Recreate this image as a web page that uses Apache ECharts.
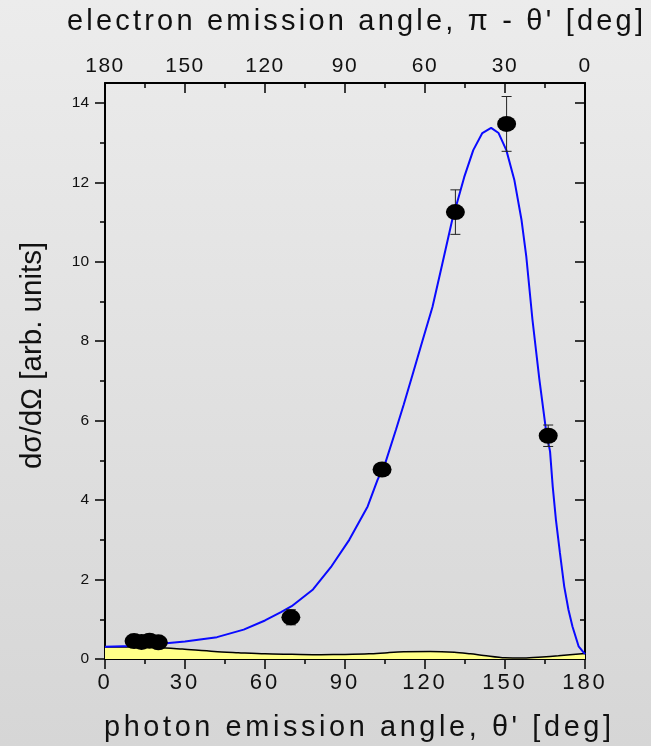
<!DOCTYPE html>
<html>
<head>
<meta charset="utf-8">
<script src="https://cdn.jsdelivr.net/npm/echarts@6/dist/echarts.min.js"></script>
<style>
html,body{margin:0;padding:0;background:#e2e2e2;}
#chart{width:651px;height:746px;}
</style>
</head>
<body>
<div id="chart"></div>
<script>
// ---------- data ----------
var photonTicks = [0, 30, 60, 90, 120, 150, 180];
var yMajorTicks = [0, 2, 4, 6, 8, 10, 12, 14];
var yMinorTicks = [1, 3, 5, 7, 9, 11, 13];

// measured points
var ptAngle = [10.9, 13.7, 16.7, 20.0, 69.7, 103.9, 131.4, 150.6, 166.2];
var ptValue = [0.45, 0.43, 0.46, 0.42, 1.05, 4.77, 11.25, 13.47, 5.62];
var ptError = [0.05, 0.05, 0.05, 0.05, 0.19, 0.15, 0.56, 0.69, 0.27];

// theory curve (blue)
var blueAngle = [0, 10, 20, 30, 42, 52, 60, 66, 70, 78, 85, 91.6, 98.5, 102.2, 105.1, 109.1, 112, 115.3, 119, 122.8, 126.5, 130.2, 134.7, 138.1, 141.5, 144.8, 147.6, 150.5, 153.5, 156.2, 158, 160.3, 162.9, 165.4, 166.9, 167.9, 169.1, 170.6, 172.2, 173.8, 175.3, 177.6, 180];
var blueValue = [0.31, 0.33, 0.38, 0.44, 0.55, 0.74, 0.97, 1.18, 1.33, 1.75, 2.34, 3.0, 3.84, 4.51, 4.93, 5.77, 6.4, 7.15, 8.0, 8.86, 9.95, 11.05, 12.13, 12.81, 13.24, 13.37, 13.24, 12.81, 12.06, 11.05, 10.12, 8.54, 7.03, 5.75, 5.22, 4.34, 3.5, 2.67, 1.83, 1.24, 0.82, 0.32, 0.12];

// background contribution (black line, yellow fill)
var blackAngle = [0, 10, 20, 29, 41, 50, 60, 70, 81, 90, 99, 106, 112, 122, 131, 137, 142, 150, 157, 164, 170, 180];
var blackValue = [0.30, 0.30, 0.29, 0.25, 0.19, 0.16, 0.13, 0.12, 0.11, 0.115, 0.13, 0.16, 0.18, 0.19, 0.17, 0.13, 0.09, 0.03, 0.025, 0.05, 0.08, 0.14];

var topTitle = "electron emission angle, \u03c0 - \u03b8' [deg]";
var bottomTitle = "photon emission angle, \u03b8' [deg]";
var leftTitle = "d\u03c3/d\u03a9 [arb. units]";

// ---------- letter spacing (keyed by font size) ----------
(function () {
  var proto = CanvasRenderingContext2D.prototype;
  if (!('letterSpacing' in proto)) return;
  var SPACING = { '22': '3px', '21': '1.5px', '29': '3.2px', '28.9': '3.6px' };
  var orig = proto.fillText;
  proto.fillText = function (t, x, y, m) {
    var mm = /(\d+(?:\.\d+)?)px/.exec(this.font || '');
    var key = mm ? String(parseFloat(mm[1])) : '';
    var prev = this.letterSpacing;
    this.letterSpacing = SPACING[key] || '0px';
    var r = m === undefined ? orig.call(this, t, x, y) : orig.call(this, t, x, y, m);
    this.letterSpacing = prev;
    return r;
  };
})();

function zip(a, b) { return a.map(function (v, i) { return [v, b[i]]; }); }

var FONT = "'Liberation Sans', Arial, sans-serif";
var axisLineStyle = { color: '#000', width: 2 };
var tickLine = { color: '#000', width: 1.5 };

var chart = echarts.init(document.getElementById('chart'), null, { renderer: 'canvas' });
chart.setOption({
  animation: false,
  backgroundColor: {
    type: 'linear', x: 0, y: 0, x2: 0, y2: 1,
    colorStops: [{ offset: 0, color: '#ececec' }, { offset: 1, color: '#d6d6d6' }]
  },
  grid: { left: 105, right: 66, top: 83, bottom: 87, containLabel: false },
  xAxis: [
    {
      type: 'value', position: 'bottom', min: 0, max: 180, interval: 30,
      axisLine: { show: true, onZero: false, lineStyle: axisLineStyle },
      axisTick: { show: true, inside: false, length: 10, lineStyle: tickLine },
      minorTick: { show: true, splitNumber: 2, length: 5, lineStyle: tickLine },
      axisLabel: { show: true, fontSize: 22, margin: 13, color: '#111', fontFamily: FONT },
      splitLine: { show: false }, minorSplitLine: { show: false }
    },
    {
      type: 'value', position: 'top', inverse: true, min: 0, max: 180, interval: 30,
      axisLine: { show: true, onZero: false, lineStyle: axisLineStyle },
      axisTick: { show: true, inside: true, length: 10, lineStyle: tickLine },
      minorTick: { show: true, splitNumber: 2, length: 5, lineStyle: tickLine },
      axisLabel: { show: true, fontSize: 21, margin: 6, color: '#111', fontFamily: FONT },
      splitLine: { show: false }, minorSplitLine: { show: false }
    }
  ],
  yAxis: [
    {
      type: 'value', position: 'left', min: 0, max: 14.5,
      axisLine: { show: true, onZero: false, lineStyle: axisLineStyle },
      axisTick: { show: true, inside: false, length: 10, lineStyle: tickLine, customValues: yMajorTicks },
      axisLabel: { show: true, fontSize: 15.5, margin: 16, color: '#111', fontFamily: FONT, customValues: yMajorTicks },
      splitLine: { show: false }
    },
    {
      type: 'value', position: 'left', min: 0, max: 14.5,
      axisLine: { show: false },
      axisTick: { show: true, inside: false, length: 5, lineStyle: tickLine, customValues: yMinorTicks },
      axisLabel: { show: false, customValues: yMinorTicks },
      splitLine: { show: false }
    },
    {
      type: 'value', position: 'right', min: 0, max: 14.5,
      axisLine: { show: true, onZero: false, lineStyle: axisLineStyle },
      axisTick: { show: true, inside: true, length: 10, lineStyle: tickLine, customValues: yMajorTicks },
      axisLabel: { show: false, customValues: yMajorTicks },
      splitLine: { show: false }
    },
    {
      type: 'value', position: 'right', min: 0, max: 14.5,
      axisLine: { show: false },
      axisTick: { show: true, inside: true, length: 5, lineStyle: tickLine, customValues: yMinorTicks },
      axisLabel: { show: false, customValues: yMinorTicks },
      splitLine: { show: false }
    }
  ],
  graphic: [
    { type: 'text', x: 67, y: 22, style: { text: topTitle, font: "29px " + FONT, fill: '#111', textAlign: 'left', textVerticalAlign: 'middle' } },
    { type: 'text', x: 104, y: 728, style: { text: bottomTitle, font: "28.9px " + FONT, fill: '#111', textAlign: 'left', textVerticalAlign: 'middle' } },
    { type: 'text', x: 33, y: 355.5, rotation: Math.PI / 2, style: { text: leftTitle, font: "29.5px " + FONT, fill: '#111', textAlign: 'center', textVerticalAlign: 'middle' } }
  ],
  series: [
    {
      type: 'line', name: 'background', xAxisIndex: 0, yAxisIndex: 0,
      data: zip(blackAngle, blackValue), smooth: 0.3, symbol: 'none',
      lineStyle: { color: '#000', width: 1.5 },
      areaStyle: { color: '#ffff88', opacity: 1 }, z: 2
    },
    {
      type: 'line', name: 'theory', xAxisIndex: 0, yAxisIndex: 0,
      data: zip(blueAngle, blueValue), symbol: 'none',
      lineStyle: { color: '#0a0aff', width: 2 }, z: 3
    },
    {
      type: 'custom', name: 'error', xAxisIndex: 0, yAxisIndex: 0, z: 4,
      data: ptAngle.map(function (a, i) { return [a, ptValue[i] - ptError[i], ptValue[i] + ptError[i]]; }),
      encode: { x: 0, y: [1, 2] },
      renderItem: function (params, api) {
        var x = api.value(0), lo = api.value(1), hi = api.value(2);
        var p1 = api.coord([x, hi]), p2 = api.coord([x, lo]);
        var w = 5, st = { stroke: '#222', lineWidth: 1 };
        return {
          type: 'group', children: [
            { type: 'line', shape: { x1: p1[0], y1: p1[1], x2: p2[0], y2: p2[1] }, style: st },
            { type: 'line', shape: { x1: p1[0] - w, y1: p1[1], x2: p1[0] + w, y2: p1[1] }, style: st },
            { type: 'line', shape: { x1: p2[0] - w, y1: p2[1], x2: p2[0] + w, y2: p2[1] }, style: st }
          ]
        };
      }
    },
    {
      type: 'scatter', name: 'data', xAxisIndex: 0, yAxisIndex: 0, z: 5,
      data: zip(ptAngle, ptValue), symbol: 'circle', symbolSize: [19, 16],
      itemStyle: { color: '#000', opacity: 1 }
    }
  ]
});
</script>
</body>
</html>
